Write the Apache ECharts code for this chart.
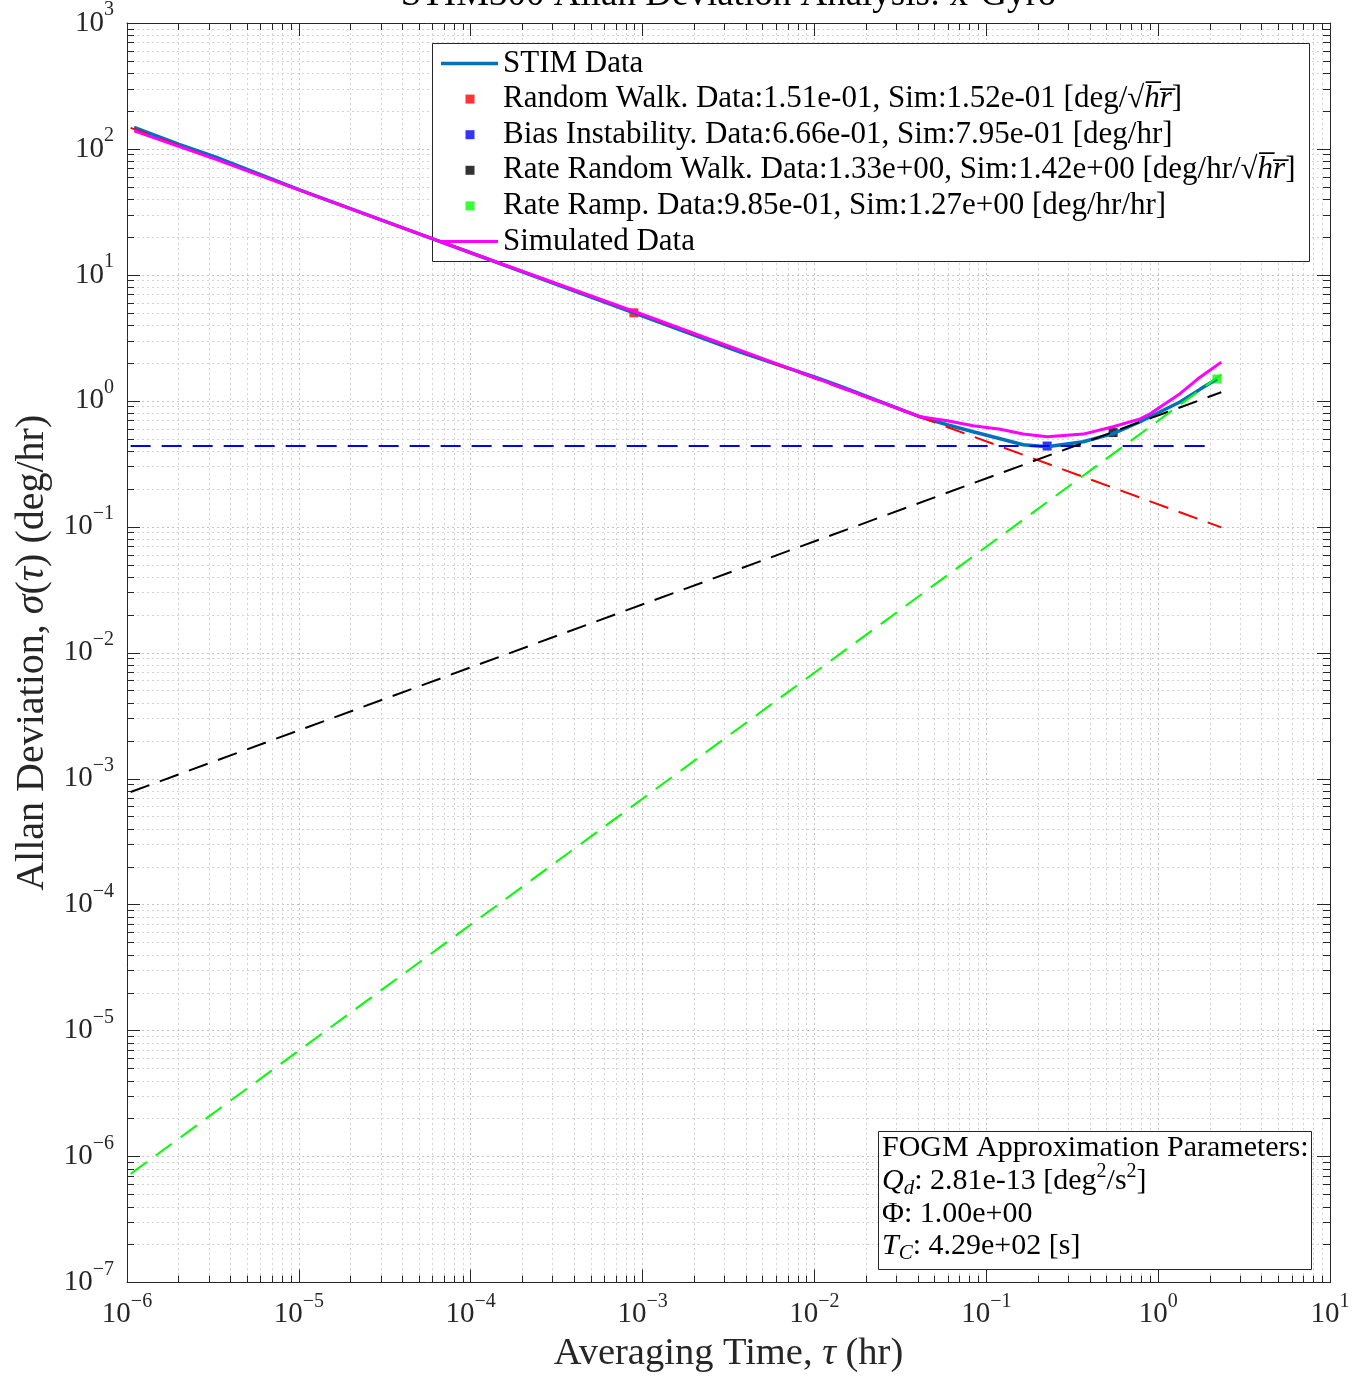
<!DOCTYPE html>
<html><head><meta charset="utf-8">
<script src="https://cdn.jsdelivr.net/npm/echarts@6/dist/echarts.min.js"></script>
<style>html,body{margin:0;padding:0;background:#fff}#c{width:1364px;height:1378px}</style>
</head><body><div id="c"></div>
<script>
const FONT = '"Liberation Serif", "DejaVu Serif", serif';
const AXC = '#262626';

const titleText = 'STIM300 Allan Deviation Analysis: x-Gyro';
const xName = 'Averaging Time, {i|τ} (hr)';
const yName = 'Allan Deviation, {i|σ}({i|τ}) (deg/hr)';

// STIM measured Allan deviation
const stimTau   = [1.10e-6, 1.99e-6, 3.26e-6, 1e-5, 5.8e-5, 1e-4, 8.9e-4, 3.7e-3, 1.0e-2, 1.41e-2, 4.12e-2, 5.92e-2, 8.39e-2, 1.205e-1, 1.64e-1, 2.26e-1, 3.66e-1, 5.47e-1, 7.86e-1, 8.98e-1, 1.34, 1.76, 2.20];
const stimSigma = [148.6, 109, 86.6, 47.5, 19.7, 15.0, 5.0, 2.44, 1.55, 1.31, 0.748, 0.646, 0.569, 0.501, 0.449, 0.433, 0.474, 0.549, 0.683, 0.748, 0.98, 1.24, 1.49];
// Simulated data
const simTau   = [1.10e-6, 3.26e-6, 1e-5, 1e-4, 1e-3, 1e-2, 4.12e-2, 5.92e-2, 8.39e-2, 1.205e-1, 1.64e-1, 2.26e-1, 3.66e-1, 5.47e-1, 7.86e-1, 8.98e-1, 1.34, 1.76, 2.33];
const simSigma = [139, 83, 47.3, 15.0, 4.85, 1.53, 0.748, 0.695, 0.635, 0.595, 0.545, 0.52, 0.545, 0.623, 0.72, 0.79, 1.14, 1.55, 2.03];
// Noise-term asymptotes (end points)
const rwLineTau = [1.05e-6, 2.33],  rwLineSigma = [147, 0.099];
const biLineTau = [1.05e-6, 2.0],   biLineSigma = [0.438, 0.438];
const rrwLineTau = [1.05e-6, 2.33], rrwLineSigma = [7.85e-4, 1.17];
const rrLineTau = [1.05e-6, 2.33],  rrLineSigma = [7.3e-7, 1.62];
// Markers [tau, sigma]
const rwMark = [8.9e-4, 5.0];
const biMark = [0.226, 0.438];
const rrwMark = [0.547, 0.56];
const rrMark = [2.2, 1.49];

const legendNames = ['STIM Data', 'Random Walk', 'Bias Instability', 'Rate Random Walk', 'Rate Ramp', 'Simulated Data'];
const legendTexts = {
  'STIM Data': '{t|STIM Data}',
  'Random Walk': '{t|Random Walk. Data:1.51e-01, Sim:1.52e-01 [deg/√}{i|h̅r̅}{t|]}',
  'Bias Instability': '{t|Bias Instability. Data:6.66e-01, Sim:7.95e-01 [deg/hr]}',
  'Rate Random Walk': '{t|Rate Random Walk. Data:1.33e+00, Sim:1.42e+00 [deg/hr/√}{i|h̅r̅}{t|]}',
  'Rate Ramp': '{t|Rate Ramp. Data:9.85e-01, Sim:1.27e+00 [deg/hr/hr]}',
  'Simulated Data': '{t|Simulated Data}'
};
const fogmLines = [
  '{t|FOGM Approximation Parameters:}',
  '{i|Q}{sub|d}{t|: 2.81e-13 [deg}{sup|2}{t|/s}{sup|2}{t|]}',
  '{t|Φ: 1.00e+00}',
  '{i|T}{sub|C}{t|: 4.29e+02 [s]}'
];

const X_MIN = 1e-6, X_MAX = 1e1, Y_MIN = 1e-7, Y_MAX = 1e3;
function minorVals(lo, hi) {
  const out = [];
  for (let e = lo; e < hi; e++) for (let m = 2; m <= 9; m++) out.push(+(m + 'e' + e));
  return out;
}
const xMinor = minorVals(-6, 1);
const yMinor = minorVals(-7, 3);

const zip = (a, b) => a.map((v, i) => [v, b[i]]);

function expLabel(v) {
  const e = Math.round(Math.log10(v));
  return '{b|10}{s|' + (e < 0 ? '−' + (-e) : e) + '}';
}
const labelRich = {
  b: { fontFamily: FONT, fontSize: 29, color: AXC },
  s: { fontFamily: FONT, fontSize: 20, color: AXC, padding: [0, 0, 26, 0] }
};
const gridMajor = { show: true, lineStyle: { color: '#c4c4c4', type: [2, 3], width: 1 } };
const gridMinor = { show: true, lineStyle: { color: '#d4d4d4', type: [2, 3], width: 1 } };

function axisCommon(type) {
  return { type: 'log', logBase: 10, min: type === 'x' ? X_MIN : Y_MIN, max: type === 'x' ? X_MAX : Y_MAX, interval: 1, gridIndex: 0 };
}
const nameStyle = (fs) => ({ fontFamily: FONT, fontSize: fs, color: AXC,
  rich: { i: { fontFamily: FONT, fontSize: fs, fontStyle: 'italic', color: AXC } } });

const xAxes = [
  Object.assign(axisCommon('x'), {
    position: 'bottom',
    axisLine: { show: true, lineStyle: { color: AXC, width: 1 } },
    axisTick: { show: true, inside: true, length: 13, lineStyle: { color: AXC } },
    axisLabel: { show: true, margin: 9, formatter: expLabel, rich: labelRich },
    splitLine: gridMajor,
    name: xName, nameLocation: 'middle', nameGap: 50, nameTextStyle: nameStyle(38.5)
  }),
  Object.assign(axisCommon('x'), {
    position: 'bottom',
    axisLine: { show: false },
    axisTick: { show: true, inside: true, length: 7, lineStyle: { color: AXC }, customValues: xMinor },
    axisLabel: { show: false },
    splitLine: gridMinor
  }),
  Object.assign(axisCommon('x'), {
    position: 'top',
    axisLine: { show: true, lineStyle: { color: AXC, width: 1 } },
    axisTick: { show: true, inside: true, length: 13, lineStyle: { color: AXC } },
    axisLabel: { show: false }, splitLine: { show: false }
  }),
  Object.assign(axisCommon('x'), {
    position: 'top',
    axisLine: { show: false },
    axisTick: { show: true, inside: true, length: 7, lineStyle: { color: AXC }, customValues: xMinor },
    axisLabel: { show: false }, splitLine: { show: false }
  })
];
const yAxes = [
  Object.assign(axisCommon('y'), {
    position: 'left',
    axisLine: { show: true, lineStyle: { color: AXC, width: 1 } },
    axisTick: { show: true, inside: true, length: 13, lineStyle: { color: AXC } },
    axisLabel: { show: true, margin: 13, formatter: expLabel, rich: labelRich },
    splitLine: gridMajor,
    name: yName, nameLocation: 'middle', nameGap: 72, nameRotate: 90, nameTextStyle: nameStyle(40)
  }),
  Object.assign(axisCommon('y'), {
    position: 'left',
    axisLine: { show: false },
    axisTick: { show: true, inside: true, length: 7, lineStyle: { color: AXC }, customValues: yMinor },
    axisLabel: { show: false },
    splitLine: gridMinor
  }),
  Object.assign(axisCommon('y'), {
    position: 'right',
    axisLine: { show: true, lineStyle: { color: AXC, width: 1 } },
    axisTick: { show: true, inside: true, length: 13, lineStyle: { color: AXC } },
    axisLabel: { show: false }, splitLine: { show: false }
  }),
  Object.assign(axisCommon('y'), {
    position: 'right',
    axisLine: { show: false },
    axisTick: { show: true, inside: true, length: 7, lineStyle: { color: AXC }, customValues: yMinor },
    axisLabel: { show: false }, splitLine: { show: false }
  })
];

const DASH = [20, 11];
function lineSeries(name, tau, sig, color, width, dash) {
  return { type: 'line', name: name, data: zip(tau, sig), xAxisIndex: 0, yAxisIndex: 0,
    symbol: 'none', showSymbol: false, silent: true,
    lineStyle: { color: color, width: width, type: dash || 'solid' }, itemStyle: { color: color } };
}
function markSeries(name, pt, color) {
  return { type: 'scatter', name: name, data: [pt], xAxisIndex: 0, yAxisIndex: 0,
    symbol: 'rect', symbolSize: 9, silent: true, itemStyle: { color: color } };
}
const SQ_ICON = 'path://M0,-7L0,-7M57,7L57,7M24.5,-4.5L33.5,-4.5L33.5,4.5L24.5,4.5Z';
const THICK_LINE_ICON = 'path://M0,-7L0,-7M57,7L57,7M0,-1.75L57,-1.75L57,1.75L0,1.75Z';
const THIN_LINE_ICON = 'path://M0,-7L0,-7M57,7L57,7M0,-1.5L57,-1.5L57,1.5L0,1.5Z';

const series = [
  lineSeries('STIM Data', stimTau, stimSigma, '#0072BD', 3.5),
  lineSeries('rw-fit', rwLineTau, rwLineSigma, '#FF0000', 2, DASH),
  markSeries('Random Walk', rwMark, '#FF0000'),
  lineSeries('bi-fit', biLineTau, biLineSigma, '#0000FF', 2, DASH),
  markSeries('Bias Instability', biMark, '#0000FF'),
  lineSeries('rrw-fit', rrwLineTau, rrwLineSigma, '#000000', 2, DASH),
  markSeries('Rate Random Walk', rrwMark, '#000000'),
  lineSeries('rr-fit', rrLineTau, rrLineSigma, '#00FF00', 2, DASH),
  markSeries('Rate Ramp', rrMark, '#00FF00'),
  lineSeries('Simulated Data', simTau, simSigma, '#FF00FF', 3)
];

const FS = 30;
const fogmRich = {
  t: { fontFamily: FONT, fontSize: FS, color: '#000' },
  i: { fontFamily: FONT, fontSize: FS, fontStyle: 'italic', color: '#000' },
  sub: { fontFamily: FONT, fontSize: 21, fontStyle: 'italic', color: '#000', padding: [14, 0, 0, 0] },
  sup: { fontFamily: FONT, fontSize: 20, color: '#000', padding: [0, 0, 18, 0] }
};
const fogmY = [1148, 1181, 1214, 1246];

const graphics = [
  { type: 'text', x: 728.5, y: 14, z: 10,
    style: { text: titleText, fontFamily: FONT, fontSize: 37, fill: '#000', align: 'center', verticalAlign: 'bottom' } },
  { type: 'rect', z: 3, shape: { x: 432.5, y: 43.5, width: 877, height: 218 },
    style: { fill: '#fff', stroke: AXC, lineWidth: 1 } },
  { type: 'rect', z: 3, shape: { x: 878.5, y: 1131.5, width: 433, height: 138 },
    style: { fill: '#fff', stroke: AXC, lineWidth: 1 } }
].concat(fogmLines.map((s, k) => ({
  type: 'text', x: 882, y: fogmY[k], z: 4,
  style: { text: s, rich: fogmRich, fontFamily: FONT, fontSize: FS, fill: '#000', align: 'left', verticalAlign: 'middle' }
})));

const LFS = 31;
const chart = echarts.init(document.getElementById('c'), null, { renderer: 'canvas' });
chart.setOption({
  animation: false,
  backgroundColor: '#fff',
  grid: { left: 127, right: 34, top: 22, bottom: 90, containLabel: false },
  xAxis: xAxes,
  yAxis: yAxes,
  legend: {
    show: true, orient: 'vertical', left: 441, top: 48, padding: 0, z: 5,
    itemWidth: 57, itemHeight: 14, itemGap: 4.6, selectedMode: false,
    data: legendNames.map(n => n === 'STIM Data' ? { name: n, icon: THICK_LINE_ICON }
      : n === 'Simulated Data' ? { name: n, icon: THIN_LINE_ICON } : { name: n, icon: SQ_ICON }),
    formatter: n => legendTexts[n],
    textStyle: { fontFamily: FONT, fontSize: LFS, color: '#000',
      rich: {
        t: { fontFamily: FONT, fontSize: LFS, color: '#000' },
        i: { fontFamily: FONT, fontSize: LFS, fontStyle: 'italic', color: '#000' }
      } }
  },
  graphic: graphics,
  series: series
});
</script></body></html>
